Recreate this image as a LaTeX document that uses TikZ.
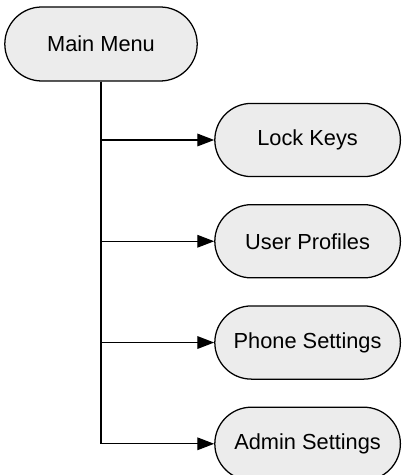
\documentclass[tikz,border=0pt]{standalone}
\usepackage{fontspec}
\setmainfont{Liberation Sans}
\usetikzlibrary{chains,positioning,shapes.misc,arrows.meta}

\begin{document}
\begin{tikzpicture}[
menu/.style={
  draw,
  rounded rectangle,
  fill=gray!15,
  line width=0.9pt,
  inner sep=2pt,
  minimum width=4.95cm,
  minimum height=1.85cm,
  font=\fontsize{15.5}{18}\selectfont
},
item/.style={
  menu,
  on chain,
  minimum width=4.78cm,
  minimum height=1.83cm
},
link/.style={
  line width=0.9pt,
  -{Triangle[length=12pt,width=9pt]}
},
start chain=going below,node distance=6.7mm
]
\useasboundingbox (0,0) rectangle (10.125,-11.875);
\node[menu] at (2.525,-1.1)
  (main) {Main Menu};
\node[item] at (7.69,-3.5)
  (lock) {Lock Keys};
\node[item]
  (user) {User Profiles};
\node[item]
  (phone) {Phone Settings};
\node[item]
  (admin) {Admin Settings};

\draw[link] (main.south) |- (lock.west);
\draw[link] (main.south) |- (user.west);
\draw[link] (main.south) |- (phone.west);
\draw[link] (main.south) |- (admin.west);
\end{tikzpicture}
\end{document}
